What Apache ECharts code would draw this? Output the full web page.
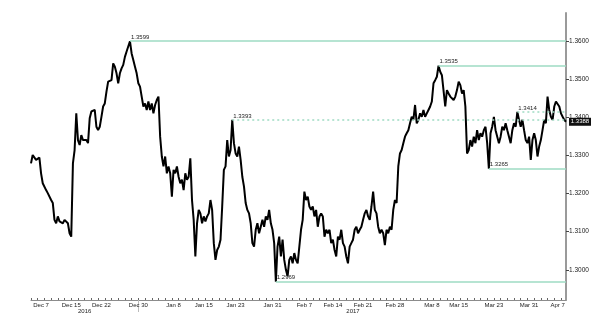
<!DOCTYPE html>
<html><head><meta charset="utf-8">
<script src="https://cdn.jsdelivr.net/npm/echarts@6/dist/echarts.min.js"></script>
<style>html,body{margin:0;padding:0;background:#fff}#c{width:600px;height:327px}</style>
</head><body><div id="c"></div>
<script>
// Price path (Dec 7 2016 – Apr 7 2017)
const pricesDecJan = [
1.3279,1.3301,1.3305,1.3288,1.3292,1.3294,1.3253,1.3227,1.3223,1.3209,
1.3201,1.3196,1.3183,1.3175,1.3131,1.3122,1.3140,1.3127,1.3131,1.3122,
1.3131,1.3127,1.3122,1.3096,1.3087,1.3279,1.3314,1.3410,1.3340,1.3327,
1.3353,1.3340,1.3336,1.3340,1.3332,1.3397,1.3415,1.3410,1.3419,1.3375,
1.3366,1.3375,1.3401,1.3428,1.3436,1.3467,1.3493,1.3489,1.3497,1.3541,
1.3532,1.3515,1.3489,1.3515,1.3528,1.3537,1.3558,1.3572,1.3576,1.3599,
1.3567,1.3550,1.3532,1.3515,1.3489,1.3480,1.3454,1.3428,1.3436,1.3419,
1.3441,1.3419,1.3436,1.3410,1.3432,1.3445,1.3454,1.3349,1.3297,1.3271];
const pricesJanFeb = [
1.3297,1.3253,1.3271,1.3253,1.3192,1.3262,1.3253,1.3271,1.3244,1.3227,
1.3236,1.3209,1.3253,1.3236,1.3244,1.3292,1.3183,1.3131,1.3035,1.3122,
1.3157,1.3148,1.3122,1.3140,1.3127,1.3140,1.3148,1.3183,1.3157,1.3070,
1.3026,1.3052,1.3061,1.3079,1.3166,1.3262,1.3271,1.3340,1.3297,1.3314,
1.3393,1.3332,1.3305,1.3297,1.3323,1.3288,1.3244,1.3218,1.3175,1.3157,
1.3148,1.3122,1.3070,1.3061,1.3105,1.3122,1.3096,1.3113,1.3131,1.3113,
1.3140,1.3131,1.3157,1.3122,1.3105,1.3070,1.2969,1.3061,1.3087,1.3035,
1.3079,1.3026,1.3000,1.2983,1.3026,1.3035,1.3017,1.3044,1.3026,1.3017];
const pricesFebMar = [
1.3017,1.3105,1.3131,1.3205,1.3183,1.3192,1.3166,1.3157,1.3166,1.3140,
1.3157,1.3113,1.3140,1.3148,1.3140,1.3087,1.3105,1.3096,1.3105,1.3070,
1.3079,1.3052,1.3035,1.3087,1.3079,1.3105,1.3070,1.3061,1.3035,1.3017,
1.3061,1.3070,1.3079,1.3105,1.3113,1.3096,1.3105,1.3113,1.3131,1.3148,
1.3157,1.3140,1.3131,1.3166,1.3205,1.3157,1.3148,1.3113,1.3096,1.3105,
1.3096,1.3065,1.3105,1.3096,1.3113,1.3105,1.3157,1.3183,1.3175,1.3271,
1.3305,1.3314,1.3332,1.3349,1.3358,1.3366,1.3384,1.3401,1.3393,1.3432,
1.3384,1.3393,1.3410,1.3401,1.3419,1.3401,1.3410,1.3419,1.3428,1.3441];
const pricesMarApr = [
1.3489,1.3497,1.3506,1.3535,1.3519,1.3510,1.3506,1.3428,1.3471,1.3462,
1.3454,1.3458,1.3445,1.3454,1.3471,1.3493,1.3484,1.3462,1.3471,1.3428,
1.3305,1.3314,1.3340,1.3323,1.3349,1.3332,1.3366,1.3340,1.3358,1.3349,
1.3366,1.3375,1.3332,1.3265,1.3358,1.3375,1.3401,1.3366,1.3349,1.3332,
1.3349,1.3375,1.3366,1.3384,1.3366,1.3349,1.3332,1.3366,1.3384,1.3375,
1.3414,1.3393,1.3375,1.3393,1.3366,1.3340,1.3332,1.3349,1.3288,1.3340,
1.3358,1.3340,1.3297,1.3323,1.3340,1.3366,1.3393,1.3384,1.3454,1.3419,
1.3401,1.3393,1.3428,1.3441,1.3445,1.3428,1.3410,1.3401,1.3393,1.3388];

const dateLabels = ['Dec 7','Dec 15','Dec 22','Dec 30','Jan 8','Jan 15','Jan 23','Jan 31',
  'Feb 7','Feb 14','Feb 21','Feb 28','Mar 8','Mar 15','Mar 23','Mar 31','Apr 7'];
const dateIdx = [6,24,42,64,85,103,122,144,163,180,198,217,239,255,276,297,314];
const yearLabels = ['2016','2017'];
const yearStartIdx = [0,64];

const solidLevels = [1.3599,1.3535,1.3265,1.2969];
const dottedLevels = [1.3393,1.3414];
const lastPrice = 1.3388;

const prices = pricesDecJan.concat(pricesJanFeb, pricesFebMar, pricesMarApr);
const N = prices.length;
const cats = prices.map(() => '');
dateIdx.forEach((k, j) => { cats[k] = dateLabels[j]; });
const yearCats = prices.map(() => ' ');
yearLabels.forEach((y, j) => {
  const s = yearStartIdx[j];
  const e = j + 1 < yearStartIdx.length ? yearStartIdx[j + 1] : N - 1;
  yearCats[Math.round((s + e) / 2)] = y;
});

const FONT = 'Liberation Sans, Arial, sans-serif';
const lvlColor = '#9edbc3';
function levelLine(v, type) {
  const i = prices.indexOf(v);
  return [
    { coord: [i, v], lineStyle: { color: lvlColor, width: 1.5, type: type },
      label: { show: true, position: 'insideStartTop', formatter: v.toFixed(4),
        fontSize: 6, color: '#222', fontFamily: FONT, distance: 1 } },
    { coord: [N - 1, v] }
  ];
}
const markData = solidLevels.map(v => levelLine(v, 'solid'))
  .concat(dottedLevels.map(v => levelLine(v, [2, 3])));

const chart = echarts.init(document.getElementById('c'), null, { renderer: 'canvas' });
chart.setOption({
  animation: false,
  backgroundColor: '#fff',
  grid: { left: 31, right: 34, top: 13, bottom: 27 },
  xAxis: [{
    type: 'category', data: cats, boundaryGap: false,
    axisLine: { lineStyle: { color: '#8c8c8c', width: 1 } },
    axisTick: { show: true, inside: true, length: 2, interval: 3, lineStyle: { color: '#666' } },
    axisLabel: { interval: (i) => cats[i] !== '', fontSize: 6, color: '#222', margin: 2, fontFamily: FONT },
    splitLine: { show: false }
  }, {
    type: 'category', data: yearCats, boundaryGap: false, position: 'bottom',
    axisLine: { show: false },
    axisTick: { show: true, length: 12, interval: (i) => i > 0 && yearStartIdx.indexOf(i) >= 0,
      lineStyle: { color: '#bbb' } },
    axisLabel: { interval: (i) => yearCats[i] !== ' ', fontSize: 6, color: '#222', margin: 8, fontFamily: FONT },
    splitLine: { show: false }
  }],
  yAxis: {
    type: 'value', position: 'right', min: 1.2921, max: 1.3673, splitNumber: 7,
    axisLine: { show: true, lineStyle: { color: '#9a9a9a', width: 2 } },
    axisTick: { show: true, length: 3, lineStyle: { color: '#444' } },
    axisLabel: { fontSize: 6.5, color: '#222', margin: 3, fontFamily: FONT,
      formatter: (v) => v.toFixed(4), showMinLabel: false, showMaxLabel: false },
    splitLine: { show: false }
  },
  series: [{
    type: 'line', data: prices, xAxisIndex: 0, symbol: 'none',
    lineStyle: { color: '#000', width: 2 },
    markLine: { silent: true, symbol: ['none', 'none'], animation: false, data: markData },
    markPoint: {
      silent: true, animation: false,
      data: [{ coord: [N - 1, lastPrice], value: lastPrice }],
      symbol: 'rect', symbolSize: [22, 8], symbolOffset: [14, 0],
      itemStyle: { color: '#111' },
      label: { show: true, position: 'inside', color: '#fff', fontSize: 6, fontFamily: FONT,
        formatter: (p) => p.value.toFixed(4) }
    }
  }]
});
</script>
</body></html>
